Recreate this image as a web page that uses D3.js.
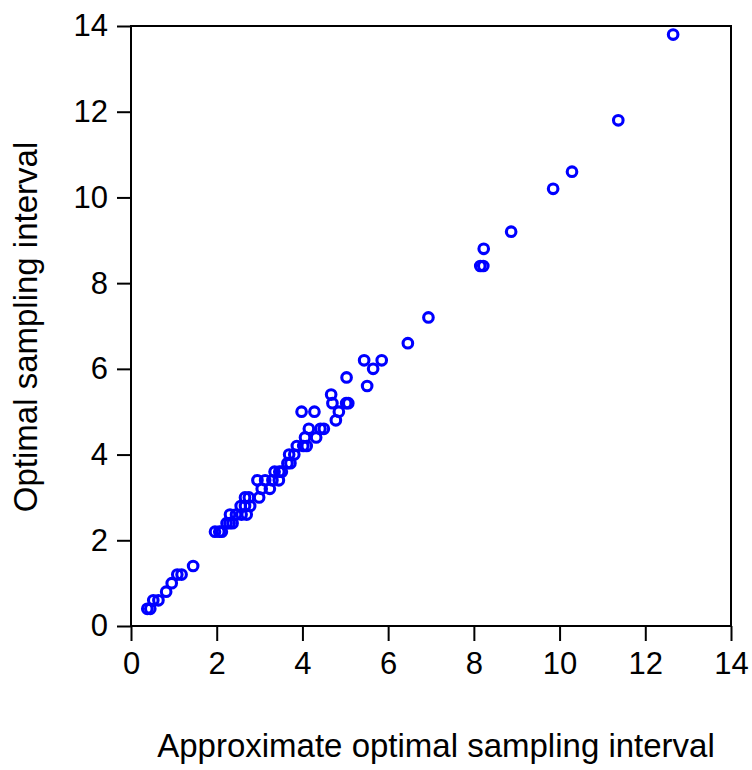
<!DOCTYPE html>
<html>
<head>
<meta charset="utf-8">
<script src="https://cdn.jsdelivr.net/npm/d3@7"></script>
<style>
  html, body { margin: 0; padding: 0; background: #fff; }
  svg { display: block; }
  text { font-family: "Liberation Sans", Arial, sans-serif; fill: #000; }
</style>
</head>
<body>
<svg id="chart" width="752" height="770"></svg>
<script>
// Approximate vs. exact optimal sampling interval (one point per case)
const approxInterval = [
  0.38, 0.45, 0.52, 0.64, 0.82, 0.95, 1.08, 1.18, 1.45,
  1.96, 2.06, 2.12, 2.23, 2.30, 2.37, 2.31, 2.45, 2.58, 2.70,
  2.56, 2.66, 2.78, 2.66, 2.75, 2.99, 3.05, 3.24,
  2.95, 3.13, 3.30, 3.45, 3.35, 3.46, 3.52, 3.65, 3.72,
  3.69, 3.81, 3.87, 4.02, 4.10, 4.06, 4.32, 4.15, 4.42, 4.50,
  4.78, 3.98, 4.28, 4.85, 4.70, 5.02, 5.07, 4.67, 5.51, 5.03,
  5.65, 5.44, 5.85, 6.46, 6.94, 8.15, 8.22, 8.23, 8.87,
  9.85, 10.29, 11.37, 12.65
];
const optimalInterval = [
  0.4, 0.4, 0.6, 0.6, 0.8, 1.0, 1.2, 1.2, 1.4,
  2.2, 2.2, 2.2, 2.4, 2.4, 2.4, 2.6, 2.6, 2.6, 2.6,
  2.8, 2.8, 2.8, 3.0, 3.0, 3.0, 3.2, 3.2,
  3.4, 3.4, 3.4, 3.4, 3.6, 3.6, 3.6, 3.8, 3.8,
  4.0, 4.0, 4.2, 4.2, 4.2, 4.4, 4.4, 4.6, 4.6, 4.6,
  4.8, 5.0, 5.0, 5.0, 5.2, 5.2, 5.2, 5.4, 5.6, 5.8,
  6.0, 6.2, 6.2, 6.6, 7.2, 8.4, 8.4, 8.8, 9.2,
  10.2, 10.6, 11.8, 13.8
];
const tickValues = [0, 2, 4, 6, 8, 10, 12, 14];
const xTitle = "Approximate optimal sampling interval";
const yTitle = "Optimal sampling interval";

const points = approxInterval.map((x, i) => ({ x, y: optimalInterval[i] }));

const svg = d3.select("#chart");
const plotLeft = 131, plotRight = 731, plotTop = 26, plotBottom = 626;

const x = d3.scaleLinear().domain([0, 14]).range([plotLeft, plotRight]);
const y = d3.scaleLinear().domain([0, 14]).range([plotBottom, plotTop]);

// Axes with outward ticks
const xAxis = svg.append("g")
  .attr("transform", `translate(0,${plotBottom})`)
  .call(d3.axisBottom(x).tickValues(tickValues).tickSize(15).tickPadding(11).tickSizeOuter(0));
const yAxis = svg.append("g")
  .attr("transform", `translate(${plotLeft},0)`)
  .call(d3.axisLeft(y).tickValues(tickValues).tickSize(14).tickPadding(9).tickSizeOuter(0));

[xAxis, yAxis].forEach(g => {
  g.select(".domain").remove();
  g.selectAll(".tick line").attr("stroke", "#000").attr("stroke-width", 2);
  g.selectAll(".tick text")
    .style("font-family", "'Liberation Sans', Arial, sans-serif")
    .style("font-size", "31px")
    .attr("fill", "#000");
});

// Plot frame
svg.append("rect")
  .attr("x", plotLeft).attr("y", plotTop)
  .attr("width", plotRight - plotLeft).attr("height", plotBottom - plotTop)
  .attr("fill", "none").attr("stroke", "#000").attr("stroke-width", 2);

// Points
svg.append("g")
  .selectAll("circle")
  .data(points)
  .join("circle")
  .attr("cx", d => x(d.x))
  .attr("cy", d => y(d.y))
  .attr("r", 4.8)
  .attr("fill", "none")
  .attr("stroke", "#0000ff")
  .attr("stroke-width", 3.1);

// Axis titles
svg.append("text")
  .attr("x", 436).attr("y", 757)
  .attr("text-anchor", "middle")
  .style("font-size", "33px")
  .text(xTitle);

svg.append("text")
  .attr("transform", "translate(37,327) rotate(-90)")
  .attr("text-anchor", "middle")
  .style("font-size", "33px")
  .text(yTitle);
</script>
</body>
</html>
